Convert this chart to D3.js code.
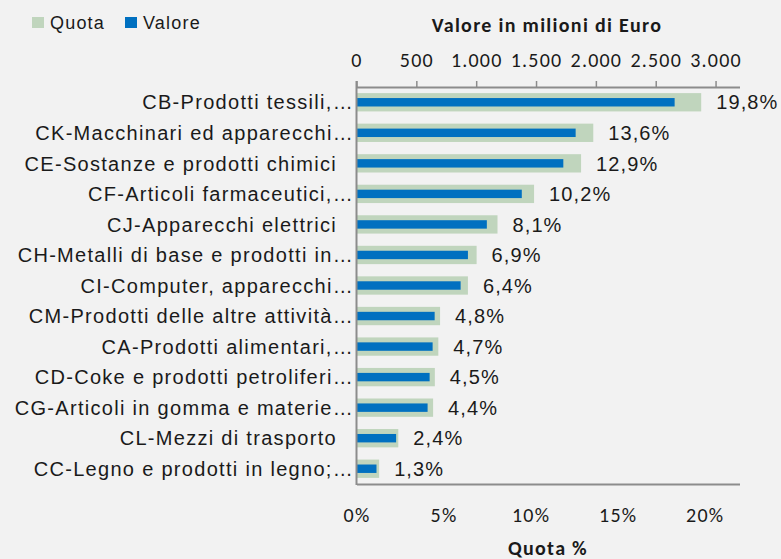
<!DOCTYPE html>
<html>
<head>
<meta charset="utf-8">
<script src="https://cdn.jsdelivr.net/npm/d3@7"></script>
<style>
  body { margin: 0; background: #f2f2f2; }
  svg { display: block; }
  .cat, .lbl, .leg { font-family: "Liberation Sans", Arial, sans-serif; fill: #1a1a1a; }
  .tick-lbl, .ax-title { font-family: Carlito, Calibri, Lato, sans-serif; fill: #1a1a1a; }
</style>
</head>
<body>
<div id="chart"></div>
<script>
// categories top -> bottom
var categories = [
  "CB-Prodotti tessili,\u2026",
  "CK-Macchinari ed apparecchi\u2026",
  "CE-Sostanze e prodotti chimici",
  "CF-Articoli farmaceutici,\u2026",
  "CJ-Apparecchi elettrici",
  "CH-Metalli di base e prodotti in\u2026",
  "CI-Computer, apparecchi\u2026",
  "CM-Prodotti delle altre attivit\u00e0\u2026",
  "CA-Prodotti alimentari,\u2026",
  "CD-Coke e prodotti petroliferi\u2026",
  "CG-Articoli in gomma e materie\u2026",
  "CL-Mezzi di trasporto",
  "CC-Legno e prodotti in legno;\u2026"
];
var quota  = [19.8, 13.6, 12.9, 10.2, 8.1, 6.9, 6.4, 4.8, 4.7, 4.5, 4.4, 2.4, 1.3];   // %
var valore = [2658, 1831, 1728, 1381, 1089, 931, 870, 653, 636, 611, 594, 331, 167]; // milioni di Euro
var valoreTicks = [0, 500, 1000, 1500, 2000, 2500, 3000];
var quotaTicks  = [0, 5, 10, 15, 20];

var W = 781, H = 559;
var mLeft = 356.5, mRight = 739.5, mTop = 87, mBottom = 484;
var cQuota = "#c0d5bd", cValore = "#0070c0", cAxis = "#8c8c8c";

var it = d3.formatLocale({ decimal: ",", thousands: ".", grouping: [3], currency: ["\u20ac", ""] });
var fNum = it.format(",d"), fPct = it.format(".1f");

var svg = d3.select("#chart").append("svg").attr("width", W).attr("height", H);

var xQ = d3.scaleLinear().domain([0, 22]).range([mLeft, mRight]);
var xV = d3.scaleLinear().domain([0, 3200]).range([mLeft, mRight]);
var y  = d3.scaleBand().domain(categories).range([mTop, mBottom]).paddingInner(0.4).paddingOuter(0.2);
var rows = categories.map(function(c, i){ return { cat: c, q: quota[i], v: valore[i] }; });

// quota bars (wide, light)
svg.append("g").selectAll("rect").data(rows).join("rect")
  .attr("x", xQ(0)).attr("y", function(d){ return y(d.cat); })
  .attr("width", function(d){ return xQ(d.q) - xQ(0); })
  .attr("height", y.bandwidth())
  .attr("fill", cQuota);

// valore bars (thin, blue)
var vh = y.bandwidth() * 0.46;
svg.append("g").selectAll("rect").data(rows).join("rect")
  .attr("x", xV(0)).attr("y", function(d){ return y(d.cat) + (y.bandwidth() - vh) / 2; })
  .attr("width", function(d){ return xV(d.v) - xV(0); })
  .attr("height", vh)
  .attr("fill", cValore);

// data labels
svg.append("g").selectAll("text").data(rows).join("text")
  .attr("class", "lbl")
  .attr("x", function(d){ return xQ(d.q) + 15; })
  .attr("y", function(d){ return y(d.cat) + y.bandwidth() / 2; })
  .attr("dy", "0.36em")
  .style("font-size", "20px").style("letter-spacing", "1.1px")
  .text(function(d){ return fPct(d.q) + "%"; });

// category labels
svg.append("g").selectAll("text").data(rows).join("text")
  .attr("class", "cat")
  .attr("x", function(d){ return /\u2026$/.test(d.cat) ? 354 : 337; })
  .attr("y", function(d){ return y(d.cat) + y.bandwidth() / 2; })
  .attr("dy", "0.36em")
  .attr("text-anchor", "end")
  .style("font-size", "20px").style("letter-spacing", "1.3px")
  .text(function(d){ return d.cat; });

// top axis (valore)
var gTop = svg.append("g").attr("transform", "translate(0," + mTop + ")")
  .call(d3.axisTop(xV).tickValues(valoreTicks).tickFormat(fNum).tickSize(6).tickSizeOuter(0).tickPadding(14));
gTop.select(".domain").attr("stroke", cAxis).attr("stroke-width", 2);
gTop.selectAll(".tick line").attr("stroke", cAxis).attr("stroke-width", 1.5);
gTop.selectAll(".tick text").attr("class", "tick-lbl").style("font-size", "20px").style("letter-spacing", "1.2px");

// bottom axis (quota)
var gBot = svg.append("g").attr("transform", "translate(0," + mBottom + ")")
  .call(d3.axisBottom(xQ).tickValues(quotaTicks).tickFormat(function(d){ return d + "%"; }).tickSize(0).tickSizeOuter(0).tickPadding(24));
gBot.select(".domain").attr("stroke", cAxis).attr("stroke-width", 2);
gBot.selectAll(".tick text").attr("class", "tick-lbl").style("font-size", "20px").style("letter-spacing", "1.2px");

// left axis line
svg.append("line").attr("x1", mLeft).attr("x2", mLeft).attr("y1", mTop - 6).attr("y2", mBottom + 1)
  .attr("stroke", cAxis).attr("stroke-width", 2);

// axis titles
svg.append("text").attr("class", "ax-title").attr("x", 547).attr("y", 32)
  .attr("text-anchor", "middle").style("font-size", "20px").style("font-weight", "bold").style("letter-spacing", "1.3px")
  .text("Valore in milioni di Euro");
svg.append("text").attr("class", "ax-title").attr("x", 548).attr("y", 555)
  .attr("text-anchor", "middle").style("font-size", "20px").style("font-weight", "bold").style("letter-spacing", "1.3px")
  .text("Quota %");

// legend
var legend = [{ name: "Quota", color: cQuota, x: 32 }, { name: "Valore", color: cValore, x: 125 }];
var lg = svg.append("g").selectAll("g").data(legend).join("g")
  .attr("transform", function(d){ return "translate(" + d.x + ",17)"; });
lg.append("rect").attr("width", 12).attr("height", 11).attr("fill", function(d){ return d.color; });
lg.append("text").attr("class", "leg").attr("x", 18).attr("y", 12)
  .style("font-size", "18px").style("letter-spacing", "1.2px")
  .text(function(d){ return d.name; });
</script>
</body>
</html>
